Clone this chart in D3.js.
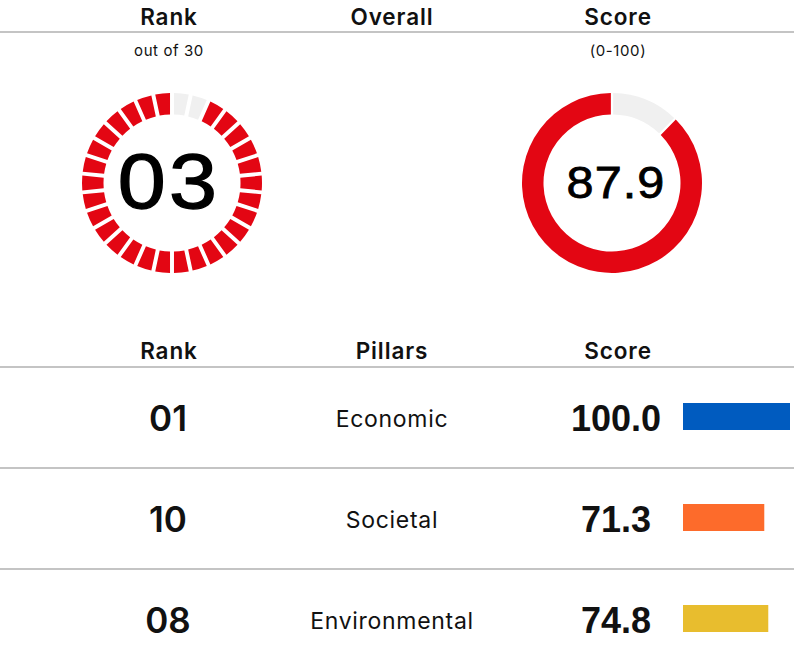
<!DOCTYPE html>
<html>
<head>
<meta charset="utf-8">
<script src="https://cdn.jsdelivr.net/npm/d3@7"></script>
<style>
  body { margin: 0; background: #fff; }
  svg { display: block; }
  .head { font-family: Inter, "Open Sans", sans-serif; font-weight: 600; font-size: 22.5px; letter-spacing: 0.9px; fill: #111; }
  .sub { font-family: Inter, sans-serif; font-size: 15px; letter-spacing: 0.6px; fill: #111; }
  .big { font-family: "Liberation Sans", Arial, sans-serif; fill: #000; stroke: #000; }
  .rowrank { font-family: Inter, sans-serif; font-weight: 600; font-size: 35px; fill: #111; }
  .pillar { font-family: Inter, sans-serif; font-size: 23px; letter-spacing: 0.7px; fill: #111; }
  .score { font-family: "Liberation Sans", Arial, sans-serif; font-weight: bold; font-size: 36px; fill: #111; }
</style>
</head>
<body>
<div id="chart"></div>
<script>
// overall
var overallRank = 3;
var totalCountries = 30;
var overallScore = 87.9;

// pillars
var pillars = ['Economic', 'Societal', 'Environmental'];
var pillarRanks = [1, 10, 8];
var pillarScores = [100.0, 71.3, 74.8];
var pillarColors = ['#005bbf', '#fd6b2b', '#e8bd2e'];

var red = '#e30613', grey = '#f0f0f0', lineColor = '#c4c4c4';
var width = 794, height = 667;
var colX = [169, 392, 618];

var svg = d3.select('#chart').append('svg')
  .attr('width', width)
  .attr('height', height);

// top header
svg.append('line')
  .attr('x1', 0).attr('x2', width)
  .attr('y1', 32).attr('y2', 32)
  .attr('stroke', lineColor).attr('stroke-width', 2);

['Rank', 'Overall', 'Score'].forEach(function(t, i) {
  svg.append('text').attr('class', 'head')
    .attr('x', colX[i]).attr('y', 25)
    .attr('text-anchor', 'middle')
    .text(t);
});
svg.append('text').attr('class', 'sub')
  .attr('x', colX[0]).attr('y', 56).attr('text-anchor', 'middle')
  .text('out of ' + totalCountries);
svg.append('text').attr('class', 'sub')
  .attr('x', colX[2]).attr('y', 56).attr('text-anchor', 'middle')
  .text('(0-100)');

var arc = d3.arc().innerRadius(68.5).outerRadius(90);

// rank ring: one segment per country, the ones above us in grey
var rankG = svg.append('g').attr('transform', 'translate(172,183)');
var segs = d3.pie().sort(null).value(function() { return 1; })
  .padAngle(0.035)(d3.range(totalCountries));

rankG.selectAll('path')
  .data(segs)
  .enter().append('path')
  .attr('d', arc)
  .attr('fill', function(d) { return d.data < overallRank - 1 ? grey : red; });

rankG.append('text').attr('class', 'big')
  .attr('text-anchor', 'middle')
  .attr('transform', 'translate(-3,25) scale(1.12,1)')
  .style('font-size', '77px')
  .style('letter-spacing', '3px')
  .style('stroke-width', 1.3)
  .text(d3.format('02d')(overallRank));

// score ring
var scoreG = svg.append('g').attr('transform', 'translate(612,183)');
var scoreArcs = d3.pie().sort(null).padAngle(0.02)([100 - overallScore, overallScore]);

scoreG.selectAll('path')
  .data(scoreArcs)
  .enter().append('path')
  .attr('d', arc)
  .attr('fill', function(d, i) { return i == 0 ? grey : red; });

scoreG.append('text').attr('class', 'big')
  .attr('text-anchor', 'middle')
  .attr('transform', 'translate(4,15) scale(1.08,1)')
  .style('font-size', '45px')
  .style('letter-spacing', '1px')
  .style('stroke-width', 0.8)
  .text(d3.format('.1f')(overallScore));

// pillars table
svg.append('line')
  .attr('x1', 0).attr('x2', width)
  .attr('y1', 367).attr('y2', 367)
  .attr('stroke', lineColor).attr('stroke-width', 2);

['Rank', 'Pillars', 'Score'].forEach(function(t, i) {
  svg.append('text').attr('class', 'head')
    .attr('x', colX[i]).attr('y', 359)
    .attr('text-anchor', 'middle')
    .text(t);
});

var y = d3.scaleBand().domain(pillars).range([367, 367 + 101 * pillars.length]);
var x = d3.scaleLinear().domain([0, 100]).range([683, 797]);

svg.append('clipPath').attr('id', 'barclip')
  .append('rect').attr('x', 0).attr('y', 0).attr('width', 790).attr('height', height);

var rows = svg.selectAll('.row')
  .data(pillars)
  .enter().append('g')
  .attr('class', 'row')
  .attr('transform', function(d) { return 'translate(0,' + y(d) + ')'; });

rows.filter(function(d, i) { return i > 0; })
  .append('line')
  .attr('x1', 0).attr('x2', width)
  .attr('y1', 0).attr('y2', 0)
  .attr('stroke', lineColor).attr('stroke-width', 2);

rows.append('text').attr('class', 'rowrank')
  .attr('x', colX[0] - 1).attr('y', 64).attr('text-anchor', 'middle')
  .text(function(d, i) { return d3.format('02d')(pillarRanks[i]); });

rows.append('text').attr('class', 'pillar')
  .attr('x', colX[1]).attr('y', 60).attr('text-anchor', 'middle')
  .text(function(d) { return d; });

rows.append('text').attr('class', 'score')
  .attr('x', 616).attr('y', 64).attr('text-anchor', 'middle')
  .text(function(d, i) { return d3.format('.1f')(pillarScores[i]); });

rows.append('rect')
  .attr('clip-path', 'url(#barclip)')
  .attr('x', x(0))
  .attr('y', 36)
  .attr('height', 27)
  .attr('width', function(d, i) { return x(pillarScores[i]) - x(0); })
  .attr('fill', function(d, i) { return pillarColors[i]; });
</script>
</body>
</html>
